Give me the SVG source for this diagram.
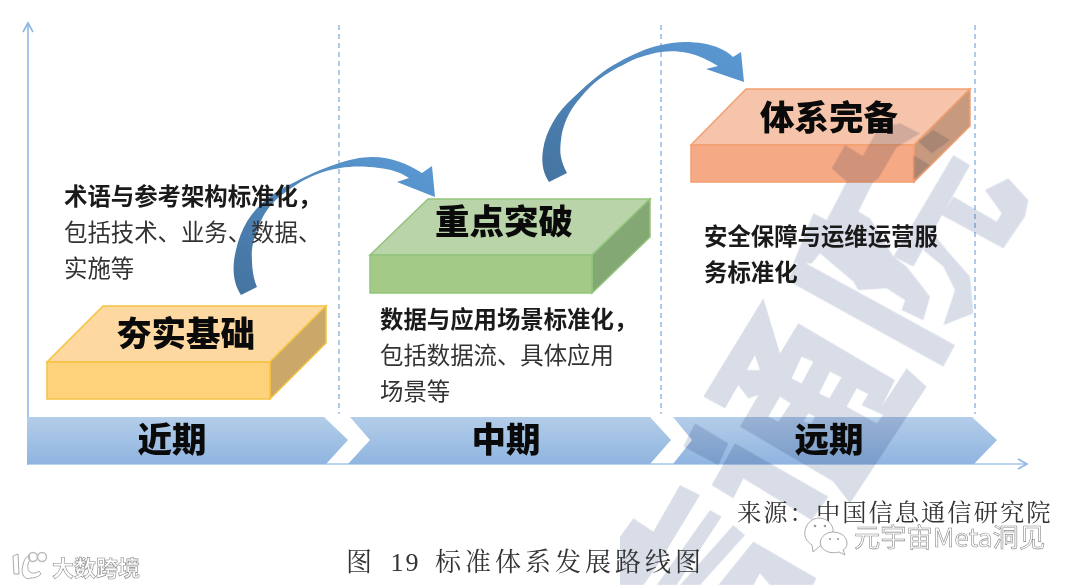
<svg xmlns="http://www.w3.org/2000/svg" width="1080" height="585" viewBox="0 0 1080 585">
<style>
.h{font-family:"Noto Sans CJK SC",sans-serif;font-weight:900;font-size:34.5px;text-anchor:middle;fill:#0a0a0a}
.p{font-family:"Noto Sans CJK SC",sans-serif;font-size:23.4px;fill:#333}
.b{font-family:"Noto Sans CJK SC",sans-serif;font-size:23.4px;font-weight:700;fill:#1a1a1a}
.c{font-family:"Liberation Serif","Noto Serif CJK SC","Noto Sans CJK SC",serif;fill:#333}
.m{font-family:"Noto Sans CJK SC",sans-serif;fill:#fff;stroke:#8a8a8a;stroke-width:.6}
.dash{stroke:#8db6e0;stroke-width:1.4;stroke-dasharray:5 4;fill:none}
.wm{mix-blend-mode:multiply}
.wm .g{fill:#d9dde8}
.wm .w{fill:#fff}
.logo{fill:#fff;stroke:#aaa;stroke-width:1}
.ring{fill:none;stroke:#bbb;stroke-width:1.5}
.eye{fill:#999}
</style>
<defs>
<linearGradient id="band" x1="0" y1="0" x2="0" y2="1"><stop offset="0" stop-color="#b4cde9"/><stop offset="1" stop-color="#8fb5e0"/></linearGradient>
<linearGradient id="arc" x1="0" y1="1" x2="1" y2="0"><stop offset="0" stop-color="#44739f"/><stop offset="1" stop-color="#5b9ad6"/></linearGradient>
<marker id="ah" markerWidth="12" markerHeight="12" refX="10" refY="6" orient="auto" markerUnits="userSpaceOnUse"><path d="M1 1L10 6L1 11" fill="none" stroke="#8db6e0" stroke-width="1.6"/></marker>
</defs>
<rect width="1080" height="585" fill="#fff"/>
<g id="connectors">
<line x1="28" y1="465" x2="28" y2="23" stroke="#a6c7ea" stroke-width="2" marker-end="url(#ah)"/>
<line x1="28" y1="464" x2="1027" y2="464" stroke="#a6c7ea" stroke-width="1.6" marker-end="url(#ah)"/>
<line class="dash" x1="339" y1="25" x2="339" y2="414"/>
<line class="dash" x1="661" y1="25" x2="661" y2="414"/>
<line class="dash" x1="975" y1="25" x2="975" y2="414"/>
</g>
<g id="band-near"><polygon points="27,417 324,417 348,440 326,464 27,464" fill="url(#band)"/></g>
<g id="band-mid"><polygon points="350,417 650,417 671,440 650,464 348,464 370,440" fill="url(#band)"/></g>
<g id="band-far"><polygon points="673,417 972,417 997,440 974,464 673,464 692,440" fill="url(#band)"/></g>
<g id="node-foundation">
<polygon points="47,362 103,306 326,306 270,362" fill="#fdd8a0" stroke="#f5c243" stroke-width="1.5"/>
<polygon points="270,362 326,306 326,343 270,399" fill="#c9a86a" stroke="#f5c243" stroke-width="1.5"/>
<rect x="47" y="362" width="223" height="37" fill="#fed27a" stroke="#f5c243" stroke-width="1.5"/>
</g>
<g id="node-focus">
<polygon points="370,255 428,199 650,199 592,255" fill="#b8d4a8" stroke="#93c47d" stroke-width="1.5"/>
<polygon points="592,255 650,199 650,237 592,293" fill="#84a873" stroke="#93c47d" stroke-width="1.5"/>
<rect x="370" y="255" width="222" height="38" fill="#a3cb87" stroke="#93c47d" stroke-width="1.5"/>
</g>
<g id="node-complete">
<polygon points="691,145 746,89 970,89 914,145" fill="#f6c4ab" stroke="#f2a070" stroke-width="1.5"/>
<polygon points="914,145 970,89 970,126 914,182" fill="#c79a80" stroke="#f2a070" stroke-width="1.5"/>
<rect x="691" y="145" width="223" height="37" fill="#f5a985" stroke="#f2a070" stroke-width="1.5"/>
</g>
<g id="watermark" class="wm">
<g transform="translate(790 110) scale(.3333)">
<polygon class="g" points="125,175 165,105 218,138 265,55 330,40 390,70 320,112 265,205 250,215 170,215"/>
<polygon class="g" points="70,310 110,330 170,215 250,215 205,305 240,325 310,440 350,470 420,560 400,630 335,600 345,570 290,535 205,540 190,515 90,430 65,460 10,459"/>
<polygon class="g" points="30,450 495,705 460,770 -10,510"/>
<polygon class="g" points="490,135 540,165 370,470 310,440"/>
<polygon class="g" points="400,420 430,370 470,420 540,500 550,610 460,645 495,540 460,470"/>
<polygon class="g" points="490,260 620,335 635,310 585,240 655,205 715,270 705,320 640,415 455,315"/>
<polygon class="g" points="370,135 420,165 370,210"/>
<polygon class="g" points="385,95 430,60 480,90 425,130"/>
</g>
<g transform="translate(620 290) scale(.3333)">
<polygon class="g" points="430,25 480,190 535,100 825,270 785,350 860,235 920,290 690,640 640,575 360,410 415,315 385,325 355,285 315,355 250,320"/>
<polygon class="w" points="405,195 420,240 380,240"/>
<polygon class="w" points="545,200 580,215 545,280 515,265"/>
<polygon class="w" points="630,245 665,262 628,325 597,310"/>
<polygon class="w" points="710,295 745,312 725,345 790,375 770,400 680,350"/>
<polygon class="w" points="480,320 512,340 475,395 445,380"/>
<polygon class="w" points="565,370 585,380 575,400 550,395"/>
<polygon class="g" points="225,400 325,460 295,525 190,470"/>
<polygon class="g" points="345,460 625,620 575,690 370,565 340,625 275,585"/>
<polygon class="g" points="180,585 240,615 110,830 70,885 0,885 0,740 40,685 100,725"/>
<polygon class="g" points="270,660 305,680 170,885 110,885"/>
<polygon class="g" points="340,705 375,735 240,885 180,885"/>
<polygon class="g" points="400,755 590,865 578,885 450,885 420,850 400,885 295,885"/>
</g>
</g>
<g id="arrows">
<path d="M241 295C231 280 233 262 236 250C243 218 262 197 293 183C322 168 350 157 372 157C392 157 408 164 422 173L432 166L435 197L397 182L409 178C400 172 390 169 379 168C365 166 352 166 340 168C322 171 307 177 293 187C277 197 266 208 260 223C253 238 251 250 252 260C252 270 254 280 257 287Z" fill="url(#arc)"/>
<path d="M549 182C541 170 542 158 543 150C546 130 557 112 574 97C590 82 603 70 619 62C633 54 647 48 661 45C670 43 678 42 685 42C698 42 710 44 719 48C724 50 729 53 733 57L741 52L744 82L706 69L718 66C708 60 698 55 688 53C678 51 669 51 661 52C648 54 635 58 623 65C606 73 592 83 581 97C571 108 565 120 562 133C560 145 560 152 561 157C562 162 564 168 567 173Z" fill="url(#arc)"/>
</g>
<g id="text">
<text class="h" x="172" y="452">近期</text>
<text class="h" x="506" y="452">中期</text>
<text class="h" x="829" y="452">远期</text>
<text class="h" x="186" y="346">夯实基础</text>
<text class="h" x="504" y="234">重点突破</text>
<text class="h" x="829" y="130">体系完备</text>
<text class="b" x="64" y="205">术语与参考架构标准化，</text>
<text class="p" x="64" y="241">包括技术、业务、数据、</text>
<text class="p" x="64" y="277">实施等</text>
<text class="b" x="380" y="328">数据与应用场景标准化，</text>
<text class="p" x="380" y="364">包括数据流、具体应用</text>
<text class="p" x="380" y="400">场景等</text>
<text class="b" x="704" y="245">安全保障与运维运营服</text>
<text class="b" x="704" y="281">务标准化</text>
<text class="c" x="737" y="521" font-size="24.3" letter-spacing="2">来源：中国信息通信研究院</text>
<text class="c" x="346" y="571" font-size="26" letter-spacing="4" word-spacing="4">图 <tspan letter-spacing="2">19</tspan> 标准体系发展路线图</text>
</g>
<g id="mark-left">
<path class="logo" d="M13 556L18 554L19 574L14 574Z"/>
<path class="logo" d="M31 578C25 581 20 574 23 565C24 559 27 556 29 555L30 560C27 563 27 570 30 572C33 574 37 573 39 571L41 574C38 577 35 578 31 578Z"/>
<circle class="ring" cx="33" cy="557" r="4.5"/>
<circle class="ring" cx="42" cy="557" r="4.5"/>
<text class="m" x="52" y="576" font-size="22" font-weight="700">大数跨境</text>
</g>
<g id="mark-right">
<path class="logo" d="M819 518C827 518 834 525 833 532C831 537 827 544 820 546L813 552L812 545C806 541 804 536 805 531C806 524 812 518 819 518Z"/>
<path class="logo" d="M833 532C841 532 847 537 847 543C847 547 845 549 843 550L845 555L839 552C832 554 824 552 821 546C818 539 825 532 833 532Z"/>
<circle class="eye" cx="815" cy="526" r="1.3"/><circle class="eye" cx="825" cy="526" r="1.3"/>
<circle class="eye" cx="830" cy="539" r="1.1"/><circle class="eye" cx="838" cy="539" r="1.1"/>
<text class="m" x="854" y="547" font-size="26.3">元宇宙Meta洞见</text>
</g>
</svg>
